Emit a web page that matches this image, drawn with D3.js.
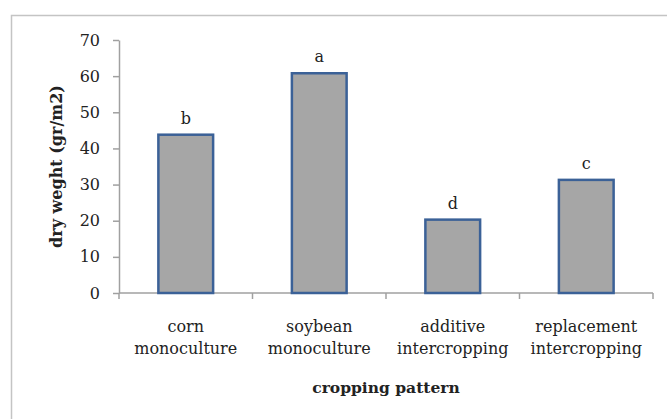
<!DOCTYPE html>
<html lang="en">
  <head>
    <meta charset="UTF-8" />
    <title>dry weight by cropping pattern</title>
    <style type="text/css">
      html, body { margin: 0; padding: 0; background: #fff; }
      svg { display: block; }
      text { font-family: 'DejaVu Serif', 'Liberation Serif', serif; fill: #222; }
    </style>
  </head>
  <body>
    <div class="d3Chart"></div>
  </body>
  <script src="https://cdn.jsdelivr.net/npm/d3@7"></script>
  <script type="text/javascript">
    // data
    var categories = [['corn', 'monoculture'], ['soybean', 'monoculture'], ['additive', 'intercropping'], ['replacement', 'intercropping']]
    var values = [43.8, 60.8, 20.3, 31.3]
    var letters = ['b', 'a', 'd', 'c']
    var yTicks = [0, 10, 20, 30, 40, 50, 60, 70]

    var width = 667
    var height = 419

    var svg = d3.select('.d3Chart').append('svg').attr('width', width).attr('height', height)

    // outer frame (runs off the right and bottom)
    svg.append('path')
      .attr('d', 'M11.5,' + height + 'V15.5H' + width)
      .attr('fill', 'none')
      .attr('stroke', '#c4c4c4')
      .attr('stroke-width', 1.5)

    // plot area edges (note: "top" is reserved on window)
    var pLeft = 119, pRight = 653, pTop = 40, pBottom = 293

    var keys = categories.map((c) => c.join(' '))
    var xScale = d3.scaleBand().domain(keys).range([pLeft, pRight]).paddingInner(0.59).paddingOuter(0.295)
    var yScale = d3.scaleLinear().domain([0, 70]).range([pBottom, pTop])

    // y axis
    var yAxis = svg.append('g')
      .attr('transform', 'translate(' + pLeft + ',0)')
      .call(d3.axisLeft(yScale).tickValues(yTicks).tickSize(6).tickPadding(13).tickSizeOuter(0))
    yAxis.selectAll('text').style('font-size', '16px').style('fill', '#222').attr('font-family', null)
    yAxis.selectAll('line, path').attr('stroke', '#a0a0a0').attr('stroke-width', 1.5)

    // x axis line + ticks at the band edges
    var step = xScale.step()
    var edges = d3.range(keys.length + 1).map((i) => pLeft + i * step)
    svg.append('line')
      .attr('x1', pLeft).attr('x2', pRight)
      .attr('y1', pBottom).attr('y2', pBottom)
      .attr('stroke', '#a0a0a0').attr('stroke-width', 1.5)
    svg.selectAll('.xTick').data(edges).enter().append('line')
      .attr('class', 'xTick')
      .attr('x1', (d) => d).attr('x2', (d) => d)
      .attr('y1', pBottom).attr('y2', pBottom + 6)
      .attr('stroke', '#a0a0a0').attr('stroke-width', 1.5)

    // bars
    svg.selectAll('.bar').data(values).enter().append('rect')
      .attr('class', 'bar')
      .attr('x', (d, i) => xScale(keys[i]))
      .attr('y', (d) => yScale(d))
      .attr('width', xScale.bandwidth())
      .attr('height', (d) => pBottom - yScale(d))
      .attr('fill', '#a6a6a6')
      .attr('stroke', '#3b6197')
      .attr('stroke-width', 2.5)

    // significance letters
    svg.selectAll('.letter').data(values).enter().append('text')
      .attr('class', 'letter')
      .attr('x', (d, i) => xScale(keys[i]) + xScale.bandwidth() / 2)
      .attr('y', (d) => yScale(d) - 11)
      .attr('text-anchor', 'middle')
      .style('font-size', '16px')
      .text((d, i) => letters[i])

    // category labels, two lines each
    var catLabels = svg.selectAll('.cat').data(categories).enter().append('text')
      .attr('class', 'cat')
      .attr('text-anchor', 'middle')
      .style('font-size', '16px')
    catLabels.selectAll('tspan').data((d, i) => d.map((t) => [t, i])).enter().append('tspan')
      .attr('x', (d) => xScale(keys[d[1]]) + xScale.bandwidth() / 2)
      .attr('y', (d, j) => 332 + j * 22)
      .text((d) => d[0])

    // axis titles
    svg.append('text')
      .attr('x', (pLeft + pRight) / 2)
      .attr('y', 393)
      .attr('text-anchor', 'middle')
      .style('font-size', '15.5px')
      .style('font-weight', 'bold')
      .text('cropping pattern')

    svg.append('text')
      .attr('transform', 'translate(62,' + (pTop + pBottom) / 2 + ') rotate(-90)')
      .attr('text-anchor', 'middle')
      .style('font-size', '16px')
      .style('font-weight', 'bold')
      .text('dry weght (gr/m2)')
  </script>
</html>
